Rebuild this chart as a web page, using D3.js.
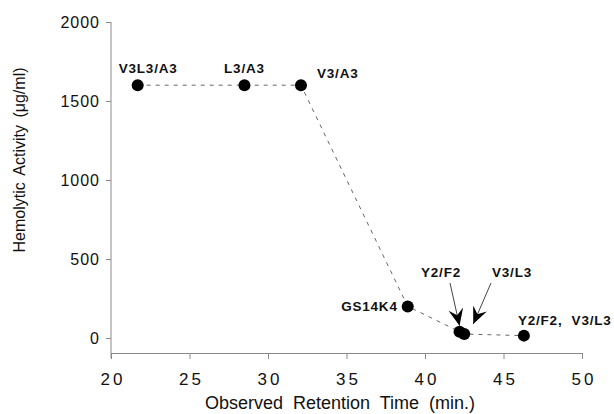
<!DOCTYPE html>
<html>
<head>
<meta charset="utf-8">
<script src="https://cdn.jsdelivr.net/npm/d3@7"></script>
<style>
  body { margin: 0; background: #fff; }
  text { font-family: "Liberation Sans", Arial, sans-serif; fill: #111; }
</style>
</head>
<body>
<svg width="614" height="414"></svg>
<script>
// data
var retention = [21.7, 28.5, 32.1, 38.9, 42.2, 42.5, 46.3];
var activity = [1600, 1600, 1600, 200, 40, 25, 15];
var pointLabels = ["V3L3/A3", "L3/A3", "V3/A3", "GS14K4", "", "", "Y2/F2,  V3/L3"];
var arrowLabels = ["Y2/F2", "V3/L3"];
var arrowTargets = [4, 5];
var xTicks = [20, 25, 30, 35, 40, 45, 50];
var yTicks = [0, 500, 1000, 1500, 2000];

var svg = d3.select("svg");
var axisColor = "#8a8a8a";

var x = d3.scaleLinear().domain([20, 50]).range([111, 582]);
var y = d3.scaleLinear().domain([0, 2000]).range([338, 22]);
var axisY = 353;

// x axis
var gx = svg.append("g").attr("transform", "translate(0," + axisY + ")")
  .call(d3.axisBottom(x).tickValues(xTicks).tickSizeInner(6).tickSizeOuter(0).tickPadding(14));
gx.select(".domain").attr("stroke", axisColor);
gx.selectAll(".tick line").attr("stroke", axisColor);
gx.selectAll(".tick text")
  .style("font-size", "17px")
  .style("letter-spacing", "3px")
  .attr("dx", "1.5px")
  .attr("fill", "#111");

// y axis
var gy = svg.append("g").attr("transform", "translate(111,0)")
  .call(d3.axisLeft(y).tickValues(yTicks).tickFormat(d3.format("d"))
    .tickSizeInner(5).tickSizeOuter(0).tickPadding(6));
gy.select(".domain").remove();
gy.append("line").attr("x1", 0).attr("x2", 0).attr("y1", y(2000)).attr("y2", axisY + 5)
  .attr("stroke", axisColor);
gy.selectAll(".tick line").attr("stroke", axisColor);
gy.selectAll(".tick text")
  .style("font-size", "16px")
  .style("letter-spacing", "1px")
  .attr("fill", "#111");

// axis titles
svg.append("text")
  .attr("x", 340).attr("y", 409)
  .attr("text-anchor", "middle")
  .style("font-size", "18px")
  .style("word-spacing", "5px")
  .text("Observed Retention Time (min.)");

svg.append("text")
  .attr("transform", "translate(25,160) rotate(-90)")
  .attr("text-anchor", "middle")
  .style("font-size", "16px")
  .style("word-spacing", "3px")
  .text("Hemolytic Activity (μg/ml)");

// dashed connecting line
var pts = retention.map(function(d, i) { return [d, activity[i]]; });
var line = d3.line().x(function(d) { return x(d[0]); }).y(function(d) { return y(d[1]); });
svg.append("path").datum(pts)
  .attr("d", line)
  .attr("fill", "none")
  .attr("stroke", "#666")
  .attr("stroke-width", 1)
  .attr("stroke-dasharray", "4,5");

// dots
svg.selectAll("circle.pt").data(pts).enter().append("circle")
  .attr("class", "pt")
  .attr("cx", function(d) { return x(d[0]); })
  .attr("cy", function(d) { return y(d[1]); })
  .attr("r", 6)
  .attr("fill", "#000");

// point labels (offsets relative to the dot)
var labelOff = [[-19, -12, "start"], [0, -12, "middle"], [16, -7, "start"], [-10, 5, "end"], null, null, [-6, -11, "start"]];
pts.forEach(function(d, i) {
  if (pointLabels[i] === "") return;
  svg.append("text")
    .attr("x", x(d[0]) + labelOff[i][0])
    .attr("y", y(d[1]) + labelOff[i][1])
    .attr("text-anchor", labelOff[i][2])
    .style("font-size", "13.5px")
    .style("font-weight", "bold")
    .style("letter-spacing", "0.8px")
    .style("white-space", "pre")
    .attr("fill", "#2a2a2a")
    .text(pointLabels[i]);
});

// arrows
svg.append("defs").append("marker")
  .attr("id", "head")
  .attr("markerUnits", "userSpaceOnUse")
  .attr("viewBox", "0 0 16 16")
  .attr("refX", 16).attr("refY", 8)
  .attr("markerWidth", 17).attr("markerHeight", 17)
  .attr("orient", "auto")
  .append("path")
  .attr("d", "M0,1 L16,8 L0,15 L6,8 Z")
  .attr("fill", "#000");

var arrowFrom = [[450, 283], [491, 283]];
var tipOff = [[0, -6], [9, -10]];
arrowTargets.forEach(function(t, k) {
  var tx = x(retention[t]) + tipOff[k][0], ty = y(activity[t]) + tipOff[k][1];
  svg.append("line")
    .attr("x1", arrowFrom[k][0]).attr("y1", arrowFrom[k][1])
    .attr("x2", tx).attr("y2", ty)
    .attr("stroke", "#444").attr("stroke-width", 1)
    .attr("marker-end", "url(#head)");
  svg.append("text")
    .attr("x", arrowFrom[k][0] + (k === 0 ? -9 : 21))
    .attr("y", 277)
    .attr("text-anchor", "middle")
    .style("font-size", "13.5px")
    .style("font-weight", "bold")
    .style("letter-spacing", "0.8px")
    .attr("fill", "#2a2a2a")
    .text(arrowLabels[k]);
});
</script>
</body>
</html>
